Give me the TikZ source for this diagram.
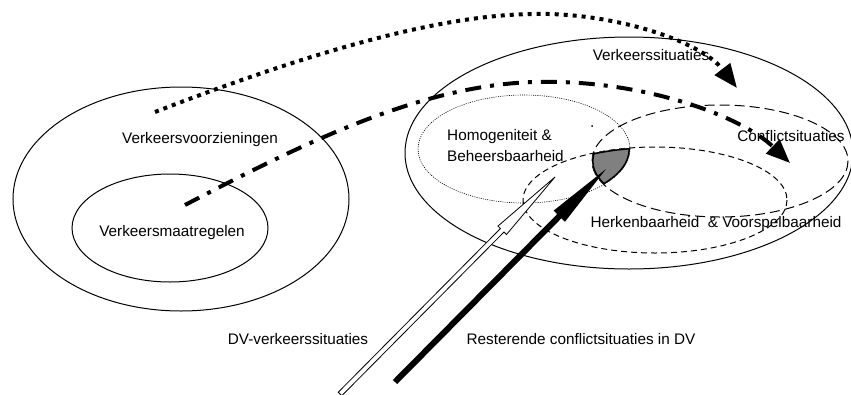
\documentclass[tikz,border=0pt]{standalone}
\usepackage{fontspec}
\setmainfont{Liberation Sans}
\usetikzlibrary{arrows.meta,calc}
\begin{document}
\begin{tikzpicture}[x=1pt,y=-1pt,
    lbl/.style={font=\fontsize{15.3}{21}\selectfont, inner sep=0pt},
    dotcurve/.style={line width=4pt, dash pattern=on 4pt off 5pt, -{Triangle[length=24pt,width=19pt]}},
    dashdotcurve/.style={line width=4pt, dash pattern=on 16pt off 9pt on 4pt off 9pt, -{Triangle[length=24pt,width=19pt]}}]
    \useasboundingbox (0,0) rectangle (851,394);
    % centres of the sets
    \coordinate (vvzC) at (181,199);
    \coordinate (vmrC) at (170,228);
    \coordinate (vksC) at (629,153);
    \coordinate (homC) at (524,149);
    \coordinate (confC) at (720,161);
    \coordinate (herkC) at (655,200);
    % sets
    \draw[line width=1pt] (vvzC) ellipse [x radius=168, y radius=112];
    \draw[line width=1pt] (vmrC) ellipse [x radius=98, y radius=54];
    \draw[line width=1pt] (vksC) ellipse [x radius=224, y radius=116];
    \draw[line width=0.6pt, dash pattern=on 1pt off 1.2pt] (homC) ellipse [x radius=106, y radius=54];
    \draw[line width=1pt, dash pattern=on 10pt off 5pt] (confC) ellipse [x radius=128, y radius=56];
    \draw[line width=1pt, dash pattern=on 6pt off 4pt] (herkC) ellipse [x radius=132, y radius=53];
    % overlap of the three
    \begin{scope}
        \clip (homC) ellipse [x radius=106, y radius=54];
        \clip (confC) ellipse [x radius=128, y radius=56];
        \clip (herkC) ellipse [x radius=132, y radius=53];
        \fill[gray] (herkC) ellipse [x radius=132, y radius=53];
        \draw[line width=3pt] (homC) ellipse [x radius=106, y radius=54];
        \draw[line width=3pt] (confC) ellipse [x radius=128, y radius=56];
        \draw[line width=3pt] (herkC) ellipse [x radius=132, y radius=53];
    \end{scope}
    \fill (592,126) circle (1pt);
    % labels
    \node[lbl] (vvz) at (200,140) {Verkeersvoorzieningen};
    \node[lbl] (vmr) at (172,233) {Verkeersmaatregelen};
    \node[lbl] (vks) at (651,55) {Verkeerssituaties};
    \node[lbl, anchor=west, align=left] (hom) at (447,146) {Homogeniteit \&\\Beheersbaarheid};
    \node[lbl] (conf) at (791,136) {Conflictsituaties};
    \node[lbl] (herk) at (716,224) {Herkenbaarheid\ \ \& Voorspelbaarheid};
    \node[lbl] (dvv) at (298,339) {DV-verkeerssituaties};
    \node[lbl] (rest) at (581,339) {Resterende conflictsituaties in DV};
    % curved arrows
    \coordinate (dotS) at (155,112);
    \coordinate (dotM) at (533,14);
    \coordinate (dotE) at (737,88);
    \draw[dotcurve] (dotS) .. controls (290,60) and (430,15) .. (dotM)
        .. controls (610,12) and (700,40) .. (dotE);
    \coordinate (ddS) at (185,205);
    \coordinate (ddM) at (535,82);
    \coordinate (ddE) at (790,163);
    \draw[dashdotcurve] (ddS) .. controls (300,145) and (420,85) .. (ddM)
        .. controls (640,79) and (740,115) .. (ddE);
    % hollow arrow
    \coordinate (dvT) at (340,394);
    \coordinate (dvP) at (555,177);
    \coordinate (dvB) at ($(dvP)!75pt!(dvT)$);
    \filldraw[fill=white, line width=0.8pt]
        ($(dvT)!2.5pt!90:(dvP)$) -- ($(dvB)!2.5pt!-90:(dvT)$) -- ($(dvB)!6pt!-90:(dvT)$)
        -- (dvP) -- ($(dvB)!6pt!90:(dvT)$) -- ($(dvB)!2.5pt!90:(dvT)$)
        -- ($(dvT)!2.5pt!-90:(dvP)$) -- cycle;
    % black arrow
    \coordinate (restT) at (395,382);
    \coordinate (restP) at (610,165);
    \draw[line width=6pt, -{Triangle[length=72pt,width=14pt]}] (restT) -- (restP);
\end{tikzpicture}
\end{document}
